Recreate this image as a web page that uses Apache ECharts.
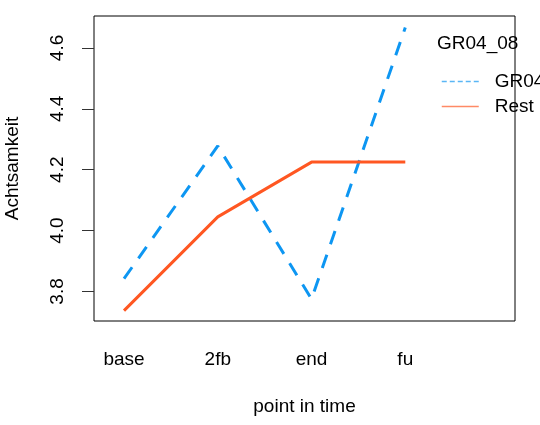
<!DOCTYPE html>
<html>
<head>
<meta charset="utf-8">
<script src="https://cdn.jsdelivr.net/npm/echarts@6/dist/echarts.min.js"></script>
<style>html,body{margin:0;padding:0;background:#fff;}#c{width:540px;height:425px;}</style>
</head>
<body>
<div id="c"></div>
<script>
var categories = ['base', '2fb', 'end', 'fu'];
var gr04 = [3.842, 4.278, 3.775, 4.667];
var rest = [3.737, 4.045, 4.225, 4.225];
var yTicks = [3.8, 4.0, 4.2, 4.4, 4.6];
var legendTitle = 'GR04_08';
var seriesNames = ['GR04', 'Rest'];
var seriesColors = ['#0D96F2', '#FF5722'];
var legendColors = ['#5AB6F5', '#FF8A66'];

var FONT = "'Liberation Sans', Arial, sans-serif";
var FS = 19;
function toXY(vals) { return vals.map(function (v, i) { return [i + 1, v]; }); }

var chart = echarts.init(document.getElementById('c'), null, { renderer: 'canvas' });
chart.setOption({
  animation: false,
  backgroundColor: '#fff',
  title: {
    text: legendTitle, left: 432, top: 29,
    textStyle: { fontFamily: FONT, fontSize: FS, fontWeight: 'normal', color: '#000' }
  },
  legend: {
    orient: 'vertical', left: 436, top: 67,
    itemWidth: 37, itemHeight: 19, itemGap: 6,
    textStyle: { fontFamily: FONT, fontSize: FS, color: '#000', padding: [0, 0, 0, 11] },
    data: [
      { name: seriesNames[0], itemStyle: { opacity: 0 }, lineStyle: { color: legendColors[0], width: 1.5, type: [5, 3] } },
      { name: seriesNames[1], itemStyle: { opacity: 0 }, lineStyle: { color: legendColors[1], width: 1.5, type: [100, 0] } }
    ]
  },
  grid: {
    left: 94, top: 16, right: 25, bottom: 104,
    outerBoundsMode: 'none', containLabel: false,
    show: true, borderColor: '#000', borderWidth: 1, backgroundColor: 'transparent'
  },
  xAxis: {
    type: 'value', min: 0.68, max: 5.17,
    name: 'point in time', nameLocation: 'middle', nameGap: 76,
    nameTextStyle: { fontFamily: FONT, fontSize: FS, color: '#000' },
    axisLine: { show: false }, axisTick: { show: false }, splitLine: { show: false },
    axisLabel: {
      customValues: [1, 2, 3, 4],
      formatter: function (v) { return categories[Math.round(v) - 1] || ''; },
      margin: 29, fontFamily: FONT, fontSize: FS, color: '#000'
    }
  },
  yAxis: {
    type: 'value', min: 3.703, max: 4.705,
    name: 'Achtsamkeit', nameLocation: 'middle', nameGap: 72,
    nameTextStyle: { fontFamily: FONT, fontSize: FS, color: '#000' },
    axisLine: { show: false }, splitLine: { show: false },
    axisTick: { show: true, customValues: yTicks, length: 12, inside: false, lineStyle: { color: '#333', width: 1 } },
    axisLabel: {
      customValues: yTicks, rotate: 90, margin: 27,
      formatter: function (v) { return v.toFixed(1); },
      fontFamily: FONT, fontSize: FS, color: '#000'
    }
  },
  series: [
    {
      name: seriesNames[0], type: 'line', data: toXY(gr04), symbol: 'none',
      lineStyle: { color: seriesColors[0], width: 3, type: [14, 11] },
      itemStyle: { color: seriesColors[0] }
    },
    {
      name: seriesNames[1], type: 'line', data: toXY(rest), symbol: 'none',
      lineStyle: { color: seriesColors[1], width: 3, type: 'solid' },
      itemStyle: { color: seriesColors[1] }
    }
  ]
});
</script>
</body>
</html>
